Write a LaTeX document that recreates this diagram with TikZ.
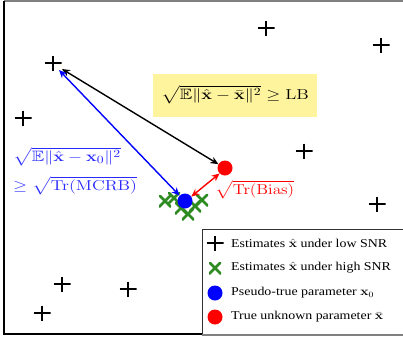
\documentclass[tikz,border=0pt]{standalone}
\usepackage{graphicx}
\usepackage{amsmath,amssymb}
\usepackage[no-math]{fontspec}
\newfontfamily\legfont{Liberation Serif}
\usetikzlibrary{arrows.meta}
\definecolor{fgreen}{RGB}{46,139,34}
\definecolor{myyellow}{RGB}{255,244,158}
\definecolor{myblue}{RGB}{40,40,255}
\newcommand{\hs}[1]{\scalebox{1.16}[1]{#1}}
\newcommand{\ms}[2][1.25]{\scalebox{#1}[1]{#2}}
\tikzset{
  plusmark/.style={minimum width=17pt,minimum height=15pt,inner sep=0pt,outer sep=0pt,
    path picture={\draw[line width=2.8pt]
      (path picture bounding box.north) -- (path picture bounding box.south)
      (path picture bounding box.west) -- (path picture bounding box.east);}},
  xmark/.style={minimum size=12pt,inner sep=0pt,outer sep=0pt,
    path picture={\draw[fgreen,line width=2.6pt]
      (path picture bounding box.north west) -- (path picture bounding box.south east)
      (path picture bounding box.south west) -- (path picture bounding box.north east);}},
  bluedot/.style={circle,fill=blue,minimum size=15pt,inner sep=0pt},
  reddot/.style={circle,fill=red,minimum size=15pt,inner sep=0pt},
  conn/.style={line width=1.4pt,{Stealth[length=8pt,width=7pt]}-{Stealth[length=8pt,width=7pt]}},
  legtext/.style={anchor=west,inner sep=0pt,font=\legfont\fontsize{12}{14}\selectfont},
  mathlbl/.style={inner sep=0pt,font=\fontsize{15}{17}\selectfont},
}
\begin{document}
\begin{tikzpicture}[x=1pt,y=-1pt]
\useasboundingbox (0,0) rectangle (403,341);
% frame
\draw[gray,line width=1.2pt] (4,1) -- (403,1);
\draw[black,line width=1.3pt] (4,1) -- (4,334) -- (202,334);
% low SNR estimates
\node[plusmark] (p1) at (53,63) {};
\node[plusmark] (p2) at (266,28) {};
\node[plusmark] (p3) at (381,45) {};
\node[plusmark] (p4) at (23,118) {};
\node[plusmark] (p5) at (304,151) {};
\node[plusmark] (p6) at (377,204) {};
\node[plusmark] (p7) at (62,284) {};
\node[plusmark] (p8) at (128,289) {};
\node[plusmark] (p9) at (42,313) {};
% high SNR estimates
\node[xmark] (h1) at (165,201) {};
\node[xmark] (h2) at (174,198) {};
\node[xmark] (h3) at (181,208) {};
\node[xmark] (h4) at (188,214) {};
\node[xmark] (h5) at (202,200) {};
\node[xmark] (h6) at (195,206) {};
% points
\node[bluedot] (x0) at (185,201) {};
\node[reddot] (xb) at (225,168) {};
% connectors
\coordinate (top) at (62,69);
\coordinate (topb) at (59,70);
\draw[conn,black] (top) -- (xb.150);
\draw[conn,blue] (topb) -- (x0.135);
\draw[conn,red] (xb.225) -- (x0.35);
% labels
\node[fill=myyellow,minimum width=164pt,minimum height=43pt,inner sep=0pt,mathlbl] (lb) at (235,95)
  {\ms{$\sqrt{\mathbb{E}\|\hat{\mathbf{x}}-\bar{\mathbf{x}}\|^2}\geq \mathrm{LB}$}};
\node[mathlbl,text=myblue,anchor=west] (m1) at (13,157)
  {\ms{$\sqrt{\mathbb{E}\|\hat{\mathbf{x}}-\mathbf{x}_0\|^2}$}};
\node[mathlbl,text=myblue,anchor=west] (m2) at (13,186)
  {\ms{$\geq\sqrt{\mathrm{Tr}(\mathrm{MCRB})}$}};
\node[mathlbl,text=red,anchor=west] (m3) at (215,190)
  {\ms[1.18]{$\sqrt{\mathrm{Tr}(\mathrm{Bias})}$}};
% legend
\fill[white] (202,229) rectangle (404,335);
\draw[black!80,line width=1pt] (404,229) -- (202,229) -- (202,335);
\draw[gray,line width=1.2pt] (202,335) -- (404,335);
\node[plusmark] (l1) at (215,243) {};
\node[xmark] (l2) at (215,268) {};
\node[bluedot] (l3) at (215,293) {};
\node[reddot] (l4) at (215,317) {};
\node[legtext] (t1) at (231,243) {\hs{Estimates $\hat{\mathbf{x}}$ under low SNR}};
\node[legtext] (t2) at (231,268) {\hs{Estimates $\hat{\mathbf{x}}$ under high SNR}};
\node[legtext] (t3) at (231,293) {\hs{Pseudo-true parameter $\mathbf{x}_0$}};
\node[legtext] (t4) at (231,317) {\hs{True unknown parameter $\bar{\mathbf{x}}$}};
\end{tikzpicture}
\end{document}
